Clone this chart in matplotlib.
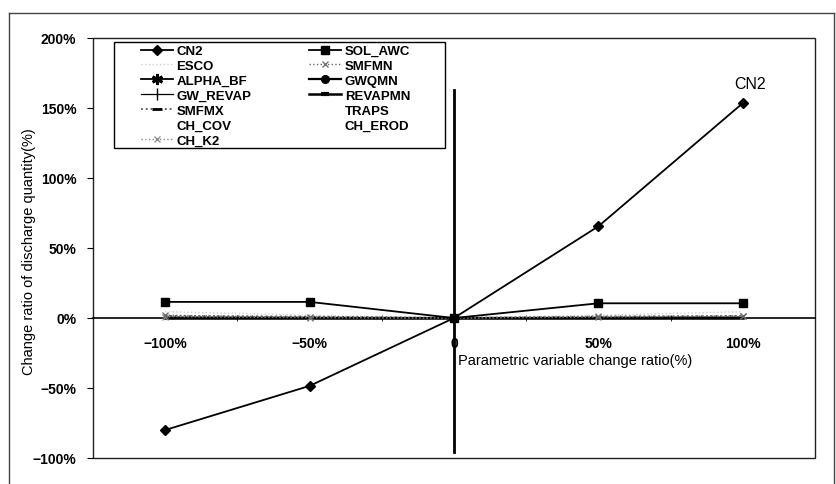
import matplotlib
matplotlib.use('Agg')
import matplotlib.pyplot as plt
from matplotlib.lines import Line2D
from matplotlib.patches import Rectangle

plt.rcParams['font.family'] = ['Liberation Sans', 'DejaVu Sans']

# ---------------- data ----------------
x_values = [-100, -50, 0, 50, 100]
x_labels = ['\u2212100%', '\u221250%', '0', '50%', '100%']
y_ticks = [-100, -50, 0, 50, 100, 150, 200]
y_labels = ['\u2212100%', '\u221250%', '0%', '50%', '100%', '150%', '200%']

cn2 = [-80, -48.5, 0, 65.5, 153.5]
sol_awc = [11.5, 11.5, 0, 10.5, 10.5]
esco = [4.5, 2.0, 0, 2.0, 4.5]
smfmn = [2.0, 0.5, 0, 0.5, 1.5]
alpha_bf = [0.3, 0.2, 0, 0.2, 0.3]
gwqmn = [0, 0, 0, 0, 0]
gw_revap = [0.5, 0.3, 0, 0.3, 0.5]
revapmn = [0, 0, 0, 0, 0]
smfmx = [1.5, 1.0, 0, 1.0, 1.5]
traps = [0, 0, 0, 0, 0]
ch_cov = [0, 0, 0, 0, 0]
ch_erod = [0, 0, 0, 0, 0]
ch_k2 = [1.0, 0.3, 0, 1.2, 1.2]

vline_span = (-96, 163)   # extent of the vertical axis line at x = 0
ylim = (-100, 200)
xlim = (-125, 125)

# ---------------- styles ----------------
# label, data, line style, marker style, marker shown in plot, visible
series = [
    ('CN2', cn2, dict(color='black', ls='-', lw=1.3),
     dict(marker='D', ms=5, mfc='black', mec='black'), True, True),
    ('ESCO', esco, dict(color='#cfcfcf', ls=':', lw=1.0),
     dict(marker='None'), False, True),
    ('ALPHA_BF', alpha_bf, dict(color='black', ls='-', lw=1.3),
     dict(marker=(6, 2, 0), ms=8, mec='black', mew=2.0), False, True),
    ('GW_REVAP', gw_revap, dict(color='black', ls='-', lw=0.9),
     dict(marker='|', ms=8, mec='black', mew=1.0), False, True),
    ('SMFMX', smfmx, dict(color='#555555', ls=':', lw=1.3),
     dict(marker='_', ms=7, mec='black', mew=2.0), False, True),
    ('CH_COV', ch_cov, dict(color='none', ls='None'),
     dict(marker='None'), False, False),
    ('CH_K2', ch_k2, dict(color='#888888', ls=':', lw=1.0),
     dict(marker='x', ms=5, mec='#888888', mew=0.9), True, True),
    ('SOL_AWC', sol_awc, dict(color='black', ls='-', lw=1.3),
     dict(marker='s', ms=5.5, mfc='black', mec='black'), True, True),
    ('SMFMN', smfmn, dict(color='#666666', ls=':', lw=1.0),
     dict(marker='x', ms=5, mec='#666666', mew=0.9), True, True),
    ('GWQMN', gwqmn, dict(color='black', ls='-', lw=1.6),
     dict(marker='o', ms=5.5, mfc='black', mec='black'), False, True),
    ('REVAPMN', revapmn, dict(color='black', ls='-', lw=1.8),
     dict(marker='_', ms=6, mec='black', mew=3.0), False, True),
    ('TRAPS', traps, dict(color='none', ls='None'),
     dict(marker='None'), False, False),
    ('CH_EROD', ch_erod, dict(color='none', ls='None'),
     dict(marker='None'), False, False),
]

W, H = 837, 485
fig = plt.figure(figsize=(W / 100, H / 100), dpi=100)
ax = fig.add_axes([93 / W, 1 - 459 / H, (815 - 93) / W, (459 - 39) / H])

# draw series (zero-ish ones first, main ones on top)
draw_order = ['ESCO', 'ALPHA_BF', 'GW_REVAP', 'SMFMX', 'GWQMN', 'REVAPMN',
              'CH_K2', 'SMFMN', 'SOL_AWC', 'CN2']
lookup = {s[0]: s for s in series}
for z, name in enumerate(draw_order):
    label, data, lkw, mkw, show_m, vis = lookup[name]
    kw = dict(lkw)
    if show_m:
        kw.update(mkw)
    ax.plot(x_values, data, zorder=3 + z * 0.1, clip_on=False, **kw)

ax.set_xlim(*xlim)
ax.set_ylim(*ylim)

# axes styling: bottom spine becomes the x axis at y = 0; border drawn separately
for s in ['top', 'right', 'left']:
    ax.spines[s].set_visible(False)
ax.spines['bottom'].set_position(('data', 0))
ax.spines['bottom'].set_linewidth(1.2)
ax.spines['bottom'].set_color('black')
ax.add_patch(Rectangle((0, 0), 1, 1, transform=ax.transAxes, fill=False,
                       ec='#222222', lw=1.0, zorder=1, clip_on=False))

ax.set_yticks(y_ticks)
ax.set_yticklabels(y_labels, fontsize=10, fontweight='bold')
ax.tick_params(axis='y', direction='out', length=4, width=0.8, pad=8)

ax.set_xticks(x_values)
ax.set_xticklabels(x_labels, fontsize=10, fontweight='bold')
ax.tick_params(axis='x', which='major', length=0, pad=13)
ax.set_xticks([-75, -25, 25, 75], minor=True)
ax.tick_params(axis='x', which='minor', direction='inout', length=4, width=0.6)

# vertical axis line at x = 0
ax.axvline(0, ymin=(vline_span[0] - ylim[0]) / (ylim[1] - ylim[0]),
           ymax=(vline_span[1] - ylim[0]) / (ylim[1] - ylim[0]),
           color='black', lw=2.0, zorder=5)

# axis titles
ax.text((458 - 93) / (815 - 93), 1 - (361 - 39) / (459 - 39),
        'Parametric variable change ratio(%)', transform=ax.transAxes,
        ha='left', va='center', fontsize=10.5)
fig.text(29 / W, 1 - 252 / H, 'Change ratio of discharge quantity(%)',
         rotation=90, ha='center', va='center', fontsize=10.5)

# CN2 annotation
ax.annotate('CN2', xy=(x_values[-1], cn2[-1]), xytext=(5, 9),
            textcoords='offset points', ha='center', va='bottom', fontsize=11.5)

# legend (proxy handles, column-major order)
handles = []
labels = []
for label, data, lkw, mkw, show_m, vis in series:
    kw = dict(lkw)
    kw.update(mkw)
    if not vis:
        kw = dict(color='none', ls='None', marker='None')
    handles.append(Line2D([], [], **kw))
    labels.append(label)

leg_left, leg_right = (141 - 93) / 722, (410 - 93) / 722
leg_top = 1 - (46 - 39) / 420
leg = ax.legend(handles, labels, ncol=2, loc='upper left', mode='expand',
                bbox_to_anchor=(leg_left, leg_top - 0.3, leg_right - leg_left, 0.3),
                frameon=False, borderpad=0, borderaxespad=0,
                handlelength=2.4, handletextpad=0.3, labelspacing=0.2,
                prop=dict(size=9.5, weight='bold'))
leg.set_zorder(10)
ax.add_patch(Rectangle(((114 - 93) / 722, 1 - (149 - 39) / 420),
                       (445 - 114) / 722, (149 - 43) / 420,
                       transform=ax.transAxes, fill=True, fc='white',
                       ec='black', lw=1.0, zorder=8))

# outer frame of the figure
fy = 1 - 14 / H
fig.add_artist(Line2D([9 / W, 9 / W], [0, fy], transform=fig.transFigure,
                      color='#444444', lw=1.0))
fig.add_artist(Line2D([9 / W, 834 / W], [fy, fy],
                      transform=fig.transFigure, color='#444444', lw=1.0))
fig.add_artist(Line2D([834 / W, 834 / W], [0, fy], transform=fig.transFigure,
                      color='#444444', lw=1.0))

fig.savefig('out.png', dpi=100)
